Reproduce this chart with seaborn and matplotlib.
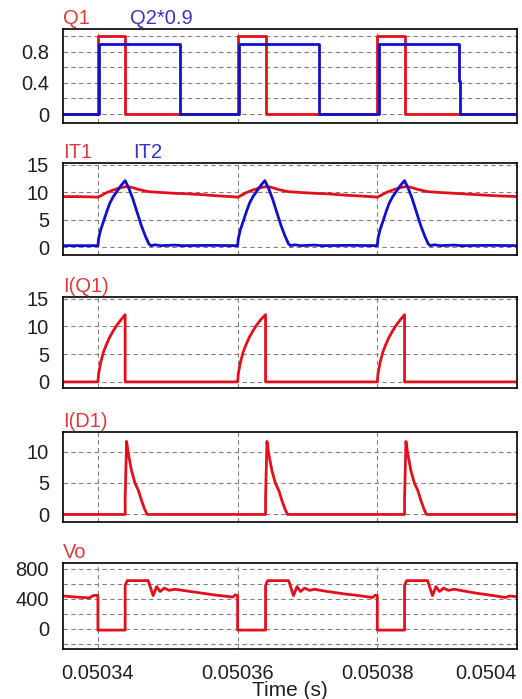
import numpy as np
import seaborn as sns
import matplotlib.pyplot as plt
from matplotlib.ticker import FixedLocator, FixedFormatter

# time values in microseconds after 0.0503 s
q1_t = [35, 40, 40, 43.9, 43.9, 60, 60, 64.0, 64.0, 80, 80, 84.0, 84.0, 100]
q1_v = [0, 0, 1, 1, 0, 0, 1, 1, 0, 0, 1, 1, 0, 0]

q2_t = [35, 40.2, 40.2, 51.8, 51.8, 60.2, 60.2, 71.6, 71.6, 80.2, 80.2, 91.7, 91.7, 91.9, 91.9, 100]
q2_v = [0, 0, 0.9, 0.9, 0, 0, 0.9, 0.9, 0, 0, 0.9, 0.9, 0.42, 0.42, 0, 0]

it1_t = [35, 37, 39, 40, 40.5, 41.2, 42.2, 43.2, 44.0, 44.8, 45.8, 47.2, 49, 51, 53, 55, 57, 59,
         60, 60.5, 61.2, 62.2, 63.2, 64.0, 64.8, 65.8, 67.2, 69, 71, 73, 75, 77, 79,
         80, 80.5, 81.2, 82.2, 83.2, 84.0, 84.8, 85.8, 87.2, 89, 91, 93, 95, 97, 100]
it1_v = [9.2, 9.2, 9.15, 9.1, 9.4, 9.9, 10.4, 10.8, 11.0, 10.9, 10.5, 10.1, 9.95, 9.8, 9.7, 9.55, 9.35, 9.2,
         9.1, 9.4, 9.9, 10.4, 10.8, 11.0, 10.9, 10.5, 10.1, 9.95, 9.8, 9.7, 9.5, 9.35, 9.2,
         9.1, 9.4, 9.9, 10.4, 10.8, 11.0, 10.9, 10.5, 10.1, 9.95, 9.8, 9.65, 9.5, 9.35, 9.2]

it2_t = [35, 40, 40.1, 40.4, 40.8, 41.3, 41.7, 42.2, 42.7, 43.3, 43.9, 44.4, 45.0, 45.6, 46.2, 46.8, 47.3, 47.6,
         48.2, 49, 51, 52, 56, 59.9,
         60, 60.1, 60.4, 60.8, 61.3, 61.7, 62.2, 62.7, 63.3, 63.9, 64.4, 65.0, 65.6, 66.2, 66.8, 67.3, 67.6,
         68.2, 69, 71, 72, 76, 79.9,
         80, 80.1, 80.4, 80.8, 81.3, 81.7, 82.2, 82.7, 83.3, 83.9, 84.4, 85.0, 85.6, 86.2, 86.8, 87.3, 87.6,
         88.2, 89, 91, 92, 96, 100]
it2_v = [0.3, 0.3, 1.6, 3.2, 4.7, 6.6, 8.0, 9.2, 10.1, 11.2, 12.1, 10.8, 8.8, 6.4, 4.0, 2.0, 0.6, 0.3,
         0.45, 0.3, 0.4, 0.3, 0.35, 0.3,
         0.3, 1.6, 3.2, 4.7, 6.6, 8.0, 9.2, 10.1, 11.2, 12.1, 10.8, 8.8, 6.4, 4.0, 2.0, 0.6, 0.3,
         0.45, 0.3, 0.4, 0.3, 0.35, 0.3,
         0.3, 1.6, 3.2, 4.7, 6.6, 8.0, 9.2, 10.1, 11.2, 12.1, 10.8, 8.8, 6.4, 4.0, 2.0, 0.6, 0.3,
         0.45, 0.3, 0.4, 0.3, 0.35, 0.3]

iq1_t = [35, 40, 40.1, 40.4, 40.8, 41.2, 41.7, 42.2, 42.7, 43.3, 43.9, 43.9,
         60, 60.1, 60.4, 60.8, 61.2, 61.7, 62.2, 62.7, 63.3, 64.0, 64.0,
         80, 80.1, 80.4, 80.8, 81.2, 81.7, 82.2, 82.7, 83.3, 83.9, 83.9, 100]
iq1_v = [0, 0, 1.5, 3.5, 5.4, 6.7, 8.1, 9.2, 10.2, 11.2, 12.1, 0,
         0, 1.5, 3.5, 5.4, 6.7, 8.1, 9.2, 10.2, 11.2, 12.1, 0,
         0, 1.5, 3.5, 5.4, 6.7, 8.1, 9.2, 10.2, 11.2, 12.1, 0, 0]

id1_t = [35, 43.9, 43.9, 44.1, 44.35, 44.8, 45.3, 45.8, 46.25, 46.7, 47.05,
         64.0, 64.0, 64.2, 64.45, 64.9, 65.4, 65.9, 66.35, 66.8, 67.15,
         83.9, 83.9, 84.1, 84.35, 84.8, 85.3, 85.8, 86.25, 86.7, 87.05, 100]
id1_v = [0, 0, 2.5, 11.6, 9.7, 7.0, 5.0, 3.8, 2.2, 0.8, 0,
         0, 2.5, 11.6, 9.7, 7.0, 5.0, 3.8, 2.2, 0.8, 0,
         0, 2.5, 11.6, 9.7, 7.0, 5.0, 3.8, 2.2, 0.8, 0, 0]

vo_t = [35, 37, 38.8, 39.3, 39.8, 40, 40, 43.9, 43.9, 44.2, 47.2, 47.5, 47.9, 48.4, 48.9, 49.5, 50.2,
        51.0, 52.5, 54, 55.5, 57, 58.5, 59.3, 59.7, 60,
        60, 64.0, 64.0, 64.3, 67.3, 67.6, 68.0, 68.5, 69.0, 69.6, 70.3,
        71.0, 72.5, 74, 75.5, 77, 78.5, 79.3, 79.7, 80,
        80, 83.9, 83.9, 84.2, 87.2, 87.5, 87.9, 88.4, 88.9, 89.5, 90.2,
        91.0, 92.5, 94, 95.5, 97, 98.3, 99.0, 100]
vo_v = [440, 425, 415, 445, 450, 445, -15, -15, 580, 645, 645, 560, 445, 565, 500, 545, 515,
        530, 510, 490, 470, 450, 435, 425, 455, 445,
        -15, -15, 580, 645, 645, 560, 445, 565, 500, 545, 515,
        530, 505, 485, 465, 450, 430, 420, 450, 445,
        -15, -15, 580, 645, 645, 560, 445, 565, 500, 545, 515,
        530, 505, 480, 460, 440, 420, 440, 430]

x_ticks = [0.05034, 0.05036, 0.05038, 0.0504]
x_labels = ['0.05034', '0.05036', '0.05038', '0.0504']

RED = '#e3101c'
BLUE = '#1010cc'
RED_TXT = '#e0393a'
BLUE_TXT = '#3636c8'
FS = 14.5


def sec(t_us):
    return 0.0503 + np.array(t_us) * 1e-6


sns.set_style('white')
plt.rcParams['font.family'] = ['Liberation Sans', 'DejaVu Sans']

fig = plt.figure(figsize=(5.22, 6.99), dpi=100)
L, W = 63 / 522, 454 / 522
boxes = [(29, 123), (163, 255), (297, 388), (432, 522), (563, 649)]
axes = [fig.add_axes([L, 1 - b / 699, W, (b - t) / 699]) for t, b in boxes]

panels = [
    ([(q1_t, q1_v, RED), (q2_t, q2_v, BLUE)], (-0.115, 1.09), [0, 0.4, 0.8], [0.2, 0.6, 1.0],
     ['0', '0.4', '0.8'], [('Q1', 0.0, RED_TXT), ('Q2*0.9', 0.147, BLUE_TXT)]),
    ([(it1_t, it1_v, RED), (it2_t, it2_v, BLUE)], (-1.4, 15.3), [0, 5, 10, 15], [],
     ['0', '5', '10', '15'], [('IT1', 0.0, RED_TXT), ('IT2', 0.154, BLUE_TXT)]),
    ([(iq1_t, iq1_v, RED)], (-1.1, 15.3), [0, 5, 10, 15], [],
     ['0', '5', '10', '15'], [('I(Q1)', 0.0, RED_TXT)]),
    ([(id1_t, id1_v, RED)], (-1.2, 13.1), [0, 5, 10], [],
     ['0', '5', '10'], [('I(D1)', 0.0, RED_TXT)]),
    ([(vo_t, vo_v, RED)], (-267, 880), [0, 400, 800], [-200, 200, 600],
     ['0', '400', '800'], [('Vo', 0.0, RED_TXT)]),
]

for ax, (series, ylim, ymaj, ymin, ylab, titles) in zip(axes, panels):
    for t, v, c in series:
        sns.lineplot(x=sec(t), y=v, ax=ax, color=c, lw=2.0, estimator=None, sort=False)
    ax.set_xlim(0.050335, 0.0504)
    ax.set_ylim(*ylim)
    ax.yaxis.set_major_locator(FixedLocator(ymaj))
    ax.yaxis.set_major_formatter(FixedFormatter(ylab))
    ax.yaxis.set_minor_locator(FixedLocator(ymin))
    ax.xaxis.set_major_locator(FixedLocator(x_ticks))
    ax.grid(True, which='both', color='#808080', ls=(0, (4, 3)), lw=0.8)
    ax.set_axisbelow(True)
    ax.tick_params(axis='both', which='both', length=0, labelsize=FS, colors='#202020', pad=10)
    for s in ax.spines.values():
        s.set_color('black')
        s.set_linewidth(1.2)
    for txt, xpos, c in titles:
        ax.text(xpos, 1.01, txt, transform=ax.transAxes, color=c, fontsize=FS,
                ha='left', va='bottom')
    ax.set_xlabel('')
    ax.set_ylabel('')
    if ax is not axes[-1]:
        ax.set_xticklabels([])

ax = axes[-1]
ax.xaxis.set_major_formatter(FixedFormatter(x_labels))
ax.tick_params(axis='x', pad=11)
ax.get_xticklabels()[-1].set_horizontalalignment('right')
ax.set_xlabel('Time (s)', fontsize=15, labelpad=-2, color='#202020')

fig.savefig('out.png', dpi=100)
